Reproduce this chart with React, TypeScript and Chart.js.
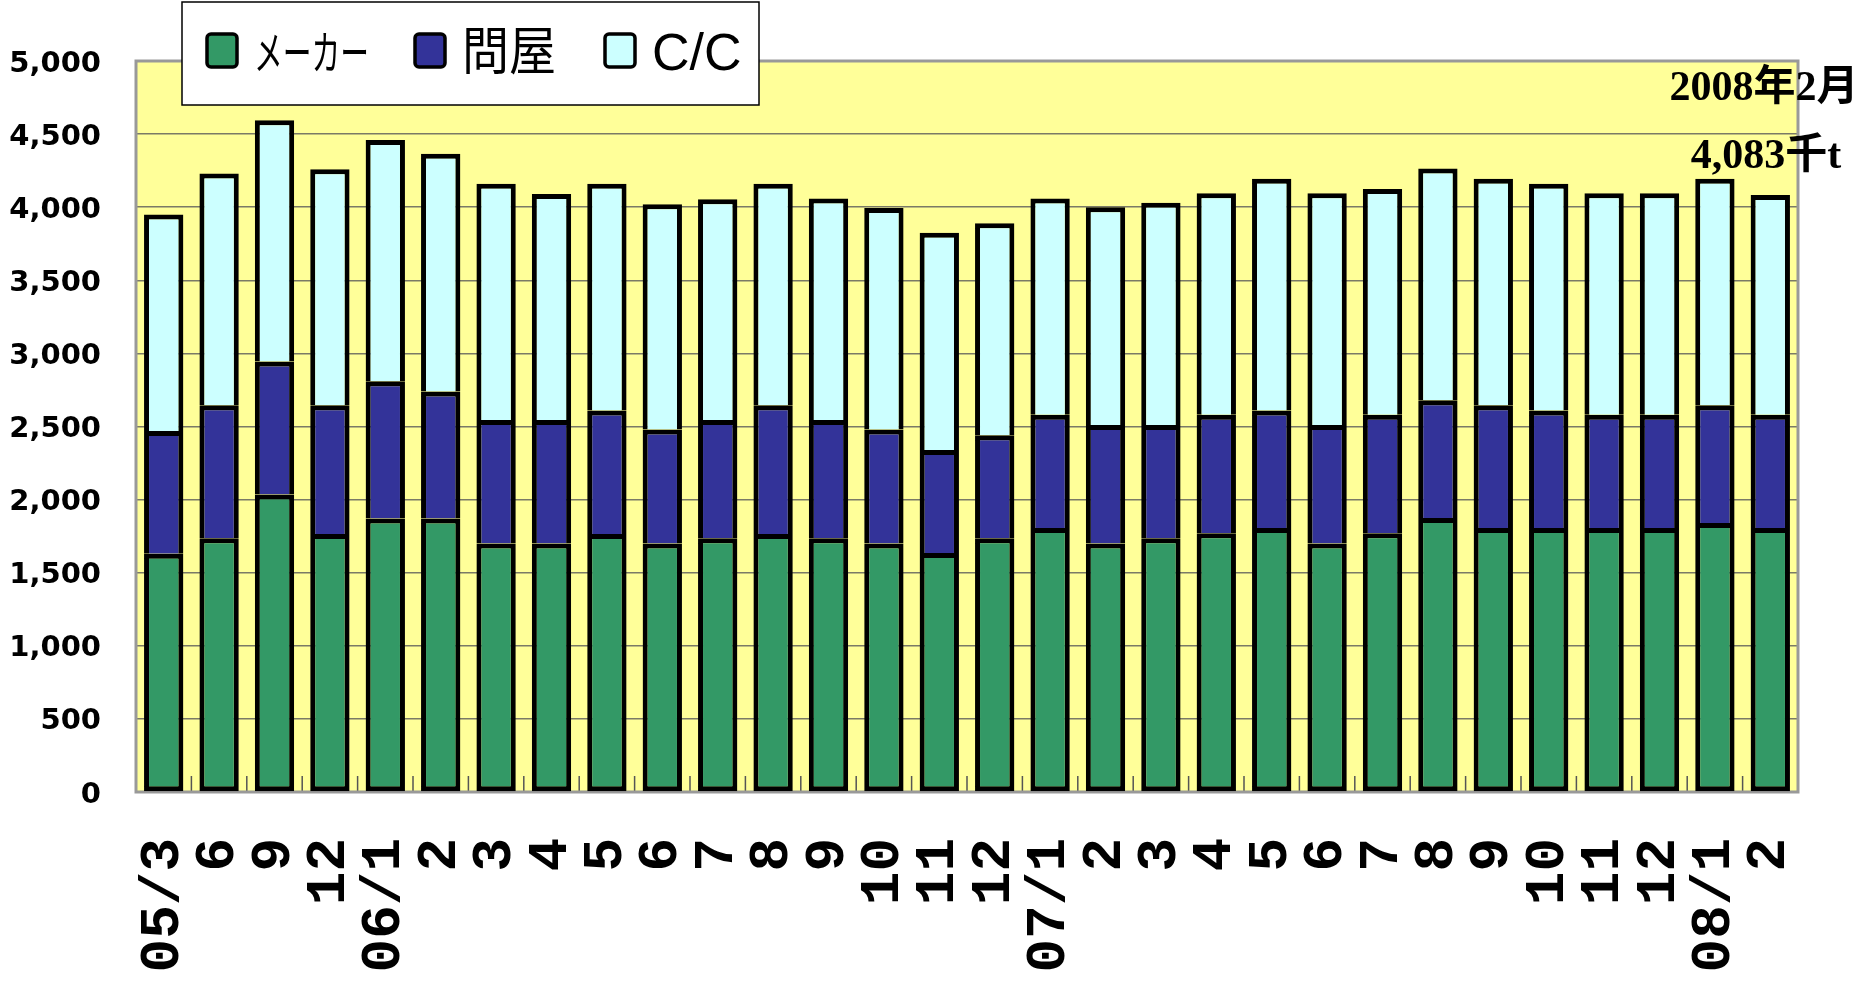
import React, { useEffect, useRef } from 'react';
import { Chart, registerables } from 'chart.js';

Chart.register(...registerables);

const categories = ['05/3', '6', '9', '12', '06/1', '2', '3', '4', '5', '6', '7', '8', '9', '10', '11', '12', '07/1', '2', '3', '4', '5', '6', '7', '8', '9', '10', '11', '12', '08/1', '2'];
const maker = [1630, 1735, 2035, 1765, 1870, 1870, 1700, 1700, 1765, 1700, 1735, 1765, 1735, 1700, 1635, 1735, 1805, 1700, 1735, 1770, 1805, 1700, 1770, 1875, 1805, 1805, 1805, 1805, 1840, 1805];
const tonya = [840, 910, 910, 880, 940, 870, 845, 845, 845, 780, 810, 880, 810, 780, 705, 705, 775, 810, 775, 810, 805, 810, 810, 805, 840, 805, 775, 775, 805, 775];
const cc = [1480, 1585, 1650, 1615, 1650, 1625, 1615, 1545, 1550, 1540, 1510, 1515, 1515, 1515, 1485, 1450, 1480, 1490, 1520, 1515, 1585, 1585, 1545, 1585, 1550, 1550, 1515, 1515, 1550, 1503];
const seriesNames = ['メーカー', '問屋', 'C/C'];
const seriesColors = ['#339966', '#333399', '#CCFFFF'];
const yMin = 0;
const yMax = 5000;
const yStep = 500;
const noteMonth = '2008年2月';
const noteUnit = '千t';

const W = 1871;
const H = 981;

const decoPlugin = {
  id: 'deco',
  beforeDraw(chart: any) {
    const { ctx, chartArea: a } = chart;
    ctx.save();
    ctx.fillStyle = '#FFFFFF';
    ctx.fillRect(0, 0, chart.width, chart.height);
    ctx.fillStyle = '#FFFF99';
    ctx.fillRect(a.left, a.top, a.right - a.left, a.bottom - a.top);
    ctx.restore();
  },
  beforeDatasetsDraw(chart: any) {
    const { ctx, chartArea: a } = chart;
    const xs = chart.scales.x;
    ctx.save();
    ctx.strokeStyle = '#555555';
    ctx.lineWidth = 1.5;
    for (let i = 1; i < categories.length; i++) {
      const px = (xs.getPixelForValue(i - 1) + xs.getPixelForValue(i)) / 2;
      ctx.beginPath();
      ctx.moveTo(px, a.bottom);
      ctx.lineTo(px, a.bottom - 16);
      ctx.stroke();
    }
    ctx.strokeStyle = '#999999';
    ctx.lineWidth = 3;
    ctx.strokeRect(a.left, a.top, a.right - a.left, a.bottom - a.top);
    ctx.restore();
  },
  afterDraw(chart: any) {
    const { ctx, chartArea: a } = chart;
    ctx.save();
    const bx = 182, by = 2, bw = 577, bh = 103;
    ctx.fillStyle = '#FFFFFF';
    ctx.fillRect(bx, by, bw, bh);
    ctx.strokeStyle = '#000000';
    ctx.lineWidth = 1.5;
    ctx.strokeRect(bx, by, bw, bh);
    const itemX = [207, 415, 605];
    const textW = [115, 94, 92];
    const fontPx = [46, 52, 52];
    ctx.textBaseline = 'middle';
    ctx.textAlign = 'left';
    chart.data.datasets.forEach((ds: any, i: number) => {
      const sx = itemX[i];
      ctx.beginPath();
      (ctx as any).roundRect(sx, 34, 30, 33, 4);
      ctx.fillStyle = ds.backgroundColor;
      ctx.fill();
      ctx.lineWidth = 3.5;
      ctx.strokeStyle = '#000000';
      ctx.stroke();
      ctx.fillStyle = '#000000';
      ctx.font = `${fontPx[i]}px 'Liberation Sans', 'Noto Sans CJK JP'`;
      ctx.fillText(ds.label, sx + 47, 56, textW[i]);
    });
    const last = categories.length - 1;
    const total = maker[last] + tonya[last] + cc[last];
    ctx.font = "bold 42px 'Liberation Serif', 'Noto Sans CJK JP'";
    ctx.textAlign = 'center';
    ctx.fillStyle = '#000000';
    ctx.fillText(noteMonth, a.right - 34, 89);
    ctx.fillText(total.toLocaleString('en-US') + noteUnit, a.right - 32, 157);
    ctx.restore();
  },
};

export default function App() {
  const ref = useRef<HTMLCanvasElement | null>(null);
  useEffect(() => {
    if (!ref.current) return;
    const bw = 5;
    const border = { top: bw, left: bw, right: bw, bottom: 0 };
    const chart = new Chart(ref.current, {
      type: 'bar',
      data: {
        labels: categories,
        datasets: [
          { label: seriesNames[0], data: maker, backgroundColor: seriesColors[0], borderColor: '#000000', borderWidth: { top: bw, left: bw, right: bw, bottom: bw }, borderSkipped: false },
          { label: seriesNames[1], data: tonya, backgroundColor: seriesColors[1], borderColor: '#000000', borderWidth: border, borderSkipped: false },
          { label: seriesNames[2], data: cc, backgroundColor: seriesColors[2], borderColor: '#000000', borderWidth: border, borderSkipped: false },
        ],
      },
      options: {
        animation: false,
        responsive: true,
        maintainAspectRatio: false,
        devicePixelRatio: 1,
        layout: { padding: { top: 61, right: 73, left: 0, bottom: 0 } },
        datasets: { bar: { barPercentage: 0.71, categoryPercentage: 1 } },
        plugins: { legend: { display: false }, tooltip: { enabled: false } },
        scales: {
          x: {
            stacked: true,
            grid: { display: false, drawTicks: false },
            border: { display: false },
            ticks: {
              autoSkip: false,
              minRotation: 90,
              maxRotation: 90,
              padding: 46,
              color: '#000000',
              font: { family: "'Liberation Mono'", size: 56, weight: 'bold' },
            },
            afterFit: (s: any) => { s.height = 189; s.paddingLeft = 0; s.paddingRight = 0; },
          },
          y: {
            stacked: true,
            min: yMin,
            max: yMax,
            grid: { color: '#7a7a66', lineWidth: 1.5, drawTicks: false },
            border: { display: false },
            ticks: {
              stepSize: yStep,
              padding: 35,
              labelOffset: 3,
              color: '#000000',
              font: { family: "'DejaVu Sans'", size: 29, weight: 'bold' },
              callback: (v: any) => Number(v).toLocaleString('en-US'),
            },
            afterFit: (s: any) => { s.width = 136; s.paddingTop = 0; s.paddingBottom = 0; },
          },
        },
      },
      plugins: [decoPlugin],
    } as any);
    return () => chart.destroy();
  }, []);
  return (
    <div style={{ position: 'fixed', left: 0, top: 0, width: W, height: H }}>
      <canvas ref={ref} />
    </div>
  );
}
